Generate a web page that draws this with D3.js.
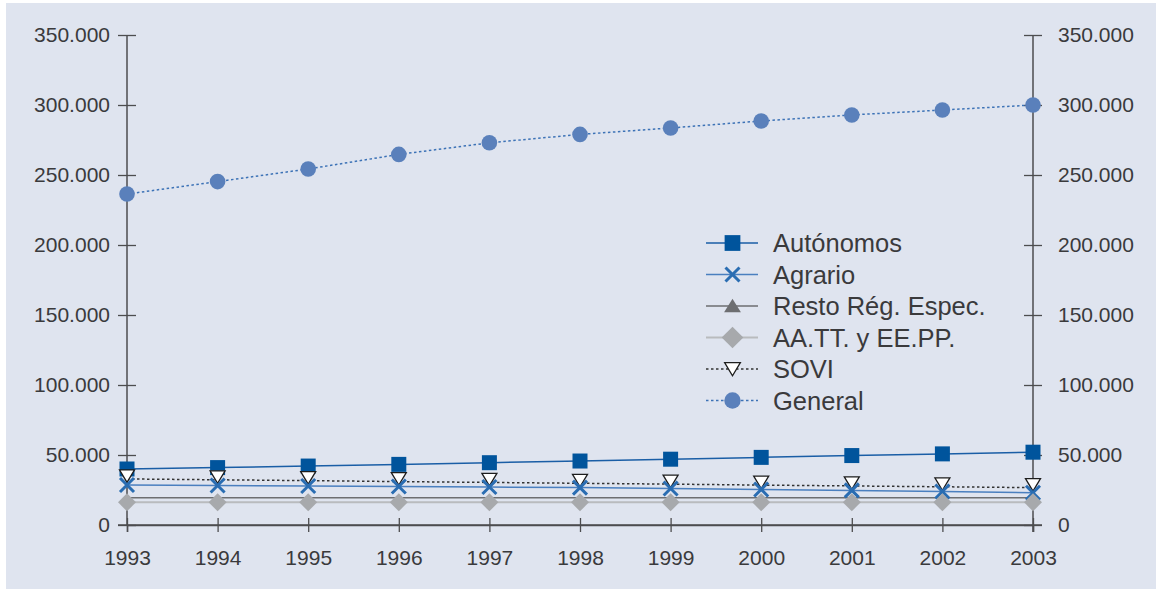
<!DOCTYPE html>
<html>
<head>
    <script src="https://d3js.org/d3.v7.min.js"></script>
    <style>
        body { margin: 0; background: #ffffff; }
        text { font-family: "Liberation Sans", Arial, sans-serif; fill: #3a3a3c; }
    </style>
</head>
<body>
    <div id="chart"></div>
    <script>
        // data
        const years = [1993, 1994, 1995, 1996, 1997, 1998, 1999, 2000, 2001, 2002, 2003];
        const autonomos = [40000, 41000, 42100, 43300, 44500, 45700, 47000, 48300, 49600, 50800, 52000];
        const agrario = [28600, 28200, 27900, 27500, 27100, 26700, 26100, 25400, 24700, 23900, 23000];
        const resto = [19500, 19500, 19500, 19500, 19500, 19500, 19500, 19400, 19400, 19400, 19400];
        const aatt = [16200, 16200, 16200, 16200, 16200, 16200, 16200, 16200, 16200, 16200, 16200];
        const sovi = [32900, 32300, 31700, 31000, 30400, 29800, 29200, 28500, 27900, 27300, 26700];
        const general = [236400, 245300, 254300, 264700, 273000, 279000, 283600, 288600, 292900, 296400, 300000];
        const yTicks = [0, 50000, 100000, 150000, 200000, 250000, 300000, 350000];

        const W = 1157, H = 589;
        const svg = d3.select("#chart").append("svg")
            .attr("width", W).attr("height", H);

        // panel background
        svg.append("rect")
            .attr("x", 6).attr("y", 3)
            .attr("width", 1150).attr("height", 586)
            .attr("fill", "#dfe4ef");

        const x = d3.scaleLinear().domain([1993, 2003]).range([127, 1033]);
        const y = d3.scaleLinear().domain([0, 350000]).range([525, 35]);

        const fmt = d => d === 0 ? "0" : d3.format(",")(d).replace(/,/g, ".");
        const axisColor = "#4d4d4f";

        // left axis
        const left = svg.append("g").attr("transform", "translate(127,0)")
            .call(d3.axisLeft(y).tickValues(yTicks).tickFormat(fmt).tickSize(9).tickPadding(8));
        left.selectAll(".tick line").attr("x2", 9).clone().attr("x2", -9);
        // right axis
        const right = svg.append("g").attr("transform", "translate(1033,0)")
            .call(d3.axisRight(y).tickValues(yTicks).tickFormat(fmt).tickSize(9).tickPadding(16));
        right.selectAll(".tick line").clone().attr("x2", -9);
        // bottom axis
        const bottom = svg.append("g").attr("transform", "translate(0,525)")
            .call(d3.axisBottom(x).tickValues(years).tickFormat(d3.format("d")).tickSize(7).tickPadding(18));
        bottom.selectAll(".tick line").clone().attr("y2", -7);
        svg.append("line").attr("x1", 118).attr("x2", 1042).attr("y1", 525).attr("y2", 525)
            .attr("stroke", axisColor).attr("stroke-width", 1.5);

        [left, right, bottom].forEach(g => {
            g.select(".domain").attr("stroke", axisColor).attr("stroke-width", 1.5);
            g.selectAll(".tick line").attr("stroke", axisColor).attr("stroke-width", 1.3);
            g.selectAll(".tick text").style("font-size", "21px").attr("fill", "#3a3a3c")
                .style("font-family", "'Liberation Sans', Arial, sans-serif");
        });
        left.select(".domain").attr("d", "M0,35V525");
        right.select(".domain").attr("d", "M0,35V532");

        const series = [
            { name: "Autónomos", values: autonomos, line: "#1a5ea6", width: 1.5, dash: null, marker: "square", fill: "#00549c", stroke: "none" },
            { name: "Agrario", values: agrario, line: "#4a7fbf", width: 1.5, dash: null, marker: "x", fill: "none", stroke: "#2a6db2" },
            { name: "Resto Rég. Espec.", values: resto, line: "#6d6e71", width: 1.5, dash: null, marker: "triangle", fill: "#6d6e71", stroke: "none" },
            { name: "AA.TT. y EE.PP.", values: aatt, line: "#b9bbbe", width: 2, dash: null, marker: "diamond", fill: "#a7a9ac", stroke: "none" },
            { name: "SOVI", values: sovi, line: "#333333", width: 1.5, dash: "2.5,2.5", marker: "tridown", fill: "#ffffff", stroke: "#1d1d1d" },
            { name: "General", values: general, line: "#3c72b6", width: 1.5, dash: "2.5,2.5", marker: "circle", fill: "#5a80bb", stroke: "none" }
        ];

        function drawMarker(g, s, cx, cy, k) {
            k = k || 1;
            if (s.marker === "square") {
                g.append("rect").attr("x", cx - 7.5 * k).attr("y", cy - 7.5 * k).attr("width", 15 * k).attr("height", 15 * k)
                    .attr("fill", s.fill);
            } else if (s.marker === "x") {
                g.append("path").attr("d", `M${cx - 7},${cy - 7}L${cx + 7},${cy + 7}M${cx - 7},${cy + 7}L${cx + 7},${cy - 7}`)
                    .attr("stroke", s.stroke).attr("stroke-width", 3).attr("fill", "none");
            } else if (s.marker === "triangle") {
                g.append("path").attr("d", `M${cx},${cy - 7 * k}L${cx + 8 * k},${cy + 6 * k}L${cx - 8 * k},${cy + 6 * k}Z`)
                    .attr("fill", s.fill);
            } else if (s.marker === "diamond") {
                g.append("path").attr("d", `M${cx},${cy - 9 * k}L${cx + 9 * k},${cy}L${cx},${cy + 9 * k}L${cx - 9 * k},${cy}Z`)
                    .attr("fill", s.fill);
            } else if (s.marker === "tridown") {
                g.append("path").attr("d", `M${cx - 7.5 * k},${cy - 6 * k}L${cx + 7.5 * k},${cy - 6 * k}L${cx},${cy + 6.5 * k}Z`)
                    .attr("fill", s.fill).attr("stroke", s.stroke).attr("stroke-width", 1.3);
            } else if (s.marker === "circle") {
                g.append("circle").attr("cx", cx).attr("cy", cy).attr("r", 7.8 * k).attr("fill", s.fill);
            }
        }

        const line = d3.line().x((d, i) => x(years[i])).y(d => y(d));

        // lines
        series.forEach(s => {
            svg.append("path").datum(s.values)
                .attr("fill", "none").attr("stroke", s.line).attr("stroke-width", s.width)
                .attr("stroke-dasharray", s.dash)
                .attr("d", line);
        });
        // markers (Resto has none in the plot, only in the legend)
        const order = ["General", "Autónomos", "SOVI", "Agrario", "AA.TT. y EE.PP."];
        order.forEach(n => {
            const s = series.find(d => d.name === n);
            const g = svg.append("g");
            s.values.forEach((v, i) => drawMarker(g, s, x(years[i]), y(v) - (n === "SOVI" ? 3 : 0)));
        });

        // legend
        const legend = svg.append("g").attr("transform", "translate(706,243)");
        series.forEach((s, i) => {
            const row = legend.append("g").attr("transform", `translate(0,${i * 31.5})`);
            row.append("line").attr("x1", 0).attr("x2", 52).attr("y1", 0).attr("y2", 0)
                .attr("stroke", s.line).attr("stroke-width", s.width).attr("stroke-dasharray", s.dash);
            drawMarker(row, s, 26.5, 0, s.marker === "diamond" ? 1.2 : 1.05);
            row.append("text").attr("x", 67).attr("y", 0).attr("dy", "0.36em")
                .style("font-size", "25.5px").text(s.name);
        });
    </script>
</body>
</html>
